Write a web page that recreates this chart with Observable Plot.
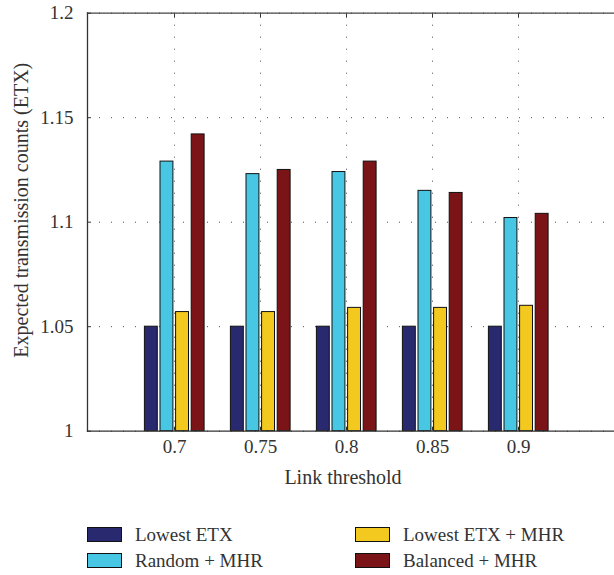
<!DOCTYPE html>
<html><head><meta charset="utf-8">
<script src="https://cdn.jsdelivr.net/npm/d3@7"></script>
<script src="https://cdn.jsdelivr.net/npm/@observablehq/plot@0.6"></script>
<style>
body{margin:0;background:#fff;font-family:"Liberation Serif",serif;color:#333;}
#wrap{position:relative;width:614px;height:575px;overflow:hidden;}
#chart{position:absolute;left:0;top:0;}
.item{position:absolute;display:flex;align-items:center;font-size:19px;line-height:15px;height:15px;white-space:nowrap;}
.sw{width:33px;height:13px;border:1px solid #111;margin-right:13px;flex:none;}
</style></head><body>
<div id="wrap"><div id="chart"></div><div id="legend"></div></div>
<script>
// ---- data ----
const thresholds = ["0.7", "0.75", "0.8", "0.85", "0.9"];
const seriesNames = ["Lowest ETX", "Random + MHR", "Lowest ETX + MHR", "Balanced + MHR"];
const lowestETX    = [1.050, 1.050, 1.050, 1.050, 1.050];
const randomMHR    = [1.129, 1.123, 1.124, 1.115, 1.102];
const lowestETXMHR = [1.057, 1.057, 1.059, 1.059, 1.060];
const balancedMHR  = [1.142, 1.125, 1.129, 1.114, 1.104];
const yTicks = [1, 1.05, 1.1, 1.15, 1.2];
const xTitle = "Link threshold";
const yTitle = "Expected transmission counts (ETX)";
const colors = ["#29296f", "#48c7e4", "#f4c91f", "#7a1416"];

const series = [lowestETX, randomMHR, lowestETXMHR, balancedMHR];
const bandW = 60, pitch = 15.6, barW = 12.9;
const gridStyle = {stroke: "#111", strokeOpacity: 0.75, strokeDasharray: "1,11"};

const barMarks = series.map((vals, i) => Plot.barY(thresholds, {
  x: d => d,
  y1: () => yTicks[0],
  y2: (d, j) => vals[j],
  fill: colors[i],
  stroke: "#111",
  strokeWidth: 1,
  insetLeft: 0.4 + pitch * i,
  insetRight: bandW - (0.4 + pitch * i + barW)
}));

const chart = Plot.plot({
  width: 614, height: 500,
  marginLeft: 87, marginRight: 0, marginTop: 12.7, marginBottom: 69.3,
  style: {fontFamily: "'Liberation Serif', serif", fontSize: "19px", color: "#333", background: "white"},
  x: {type: "band", domain: thresholds, paddingInner: 0.306, paddingOuter: 0.698, align: 0.463, label: null},
  y: {domain: [yTicks[0], yTicks[yTicks.length - 1]], label: null},
  marks: [
    Plot.gridX({...gridStyle}),
    Plot.gridY({ticks: yTicks, ...gridStyle}),
    ...barMarks,
    Plot.frame({anchor: "left", stroke: "#333", strokeWidth: 1.3}),
    Plot.frame({anchor: "top", stroke: "#444", strokeWidth: 1.3}),
    Plot.frame({anchor: "bottom", stroke: "#333", strokeWidth: 1.3}),
    Plot.axisX({anchor: "bottom", tickSize: -4, tickPadding: 12.5, fontSize: 19, label: null, stroke: "#333"}),
    Plot.axisX({anchor: "top", tickSize: -4, tickFormat: () => "", label: null, stroke: "#333"}),
    Plot.axisY({anchor: "left", ticks: yTicks, tickSize: -4, tickPadding: 18, fontSize: 19, tickFormat: d => String(d), label: null, stroke: "#333"}),
    Plot.text([xTitle], {frameAnchor: "bottom", textAnchor: "middle", dy: 53, dx: -8, fontSize: 20, text: d => d}),
    Plot.text([yTitle], {frameAnchor: "left", textAnchor: "middle", rotate: -90, dx: -66, dy: -12, fontSize: 20, text: d => d})
  ]
});
document.getElementById("chart").appendChild(chart);

// ---- legend ----
const legendPos = [[87, 527], [87, 553], [355, 527], [355, 553]];
const legend = document.getElementById("legend");
seriesNames.forEach((name, i) => {
  const item = document.createElement("div");
  item.className = "item";
  item.style.left = legendPos[i][0] + "px";
  item.style.top = legendPos[i][1] + "px";
  const sw = document.createElement("span");
  sw.className = "sw";
  sw.style.background = colors[i];
  const label = document.createElement("span");
  label.textContent = name;
  item.appendChild(sw);
  item.appendChild(label);
  legend.appendChild(item);
});
</script>
</body></html>
